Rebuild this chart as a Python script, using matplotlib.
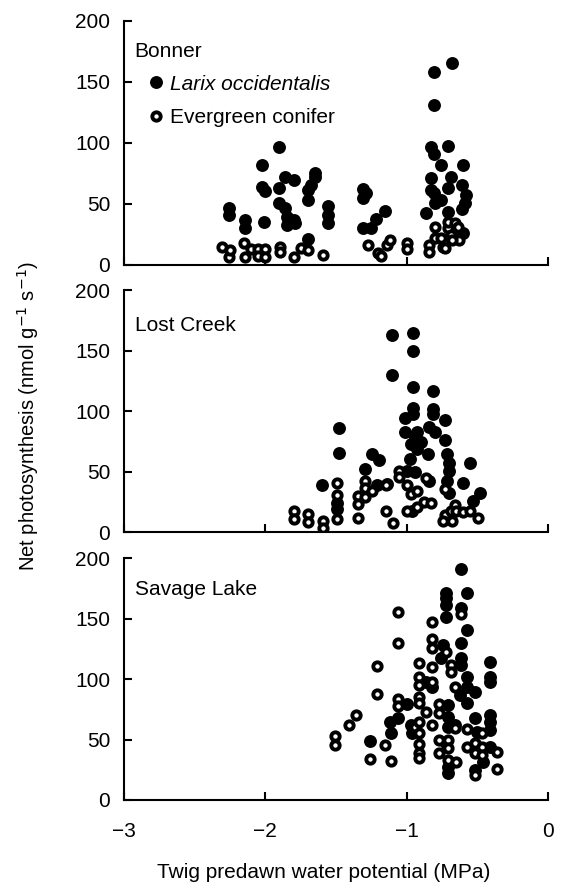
import matplotlib
matplotlib.use("Agg")
import matplotlib.pyplot as plt

plt.rcParams['font.family'] = ['Liberation Sans', 'DejaVu Sans']
plt.rcParams['font.size'] = 15

sites = ['Bonner', 'Lost Creek', 'Savage Lake']

# Bonner: Larix occidentalis (filled)
bon_larix_x = [-2.255, -2.255, -2.144, -2.144, -2.007, -2.026, -2.026, -2.0, -1.90,
               -1.90, -1.86, -1.80, -1.90, -1.86, -1.85, -1.80, -1.85, -1.79,
               -1.70, -1.68, -1.70, -1.65, -1.65, -1.554, -1.554, -1.554,
               -1.31, -1.29, -1.31, -1.31, -1.25, -1.22, -1.15, -1.70,
               -0.807, -0.677, -0.807, -0.83, -0.71, -0.807, -0.76, -0.604,
               -0.83, -0.69, -0.83, -0.71, -0.61, -0.58, -0.59, -0.81, -0.80,
               -0.76, -0.86, -0.71, -0.61, -0.60]
bon_larix_y = [47, 41, 37, 30, 35.5, 82, 63.7, 61, 97,
               62.8, 72, 69.7, 50.5, 46.4, 39.6, 37, 32.8, 34,
               61.5, 65.6, 53, 72, 75, 48, 41, 34.7,
               62, 59, 54.6, 30, 30, 38, 44.5, 21,
               158.5, 165.3, 131, 97, 97.8, 91, 82, 82,
               71, 72.4, 61.5, 62.8, 65.6, 57.4, 51, 58.7, 50.5,
               53.3, 42.3, 43.7, 45.6, 26]

# Bonner: evergreen conifers (open)
bon_ever_x = [-2.304, -2.257, -2.25, -2.149, -2.144, -2.10, -2.05, -2.05, -2.0, -2.0,
              -1.896, -1.896, -1.795, -1.745, -1.70, -1.594,
              -1.276, -1.20, -1.18, -1.14, -1.12, -1.0, -1.0,
              -0.80, -0.80, -0.76, -0.71, -0.71, -0.66, -0.64, -0.63, -0.69,
              -0.74, -0.84, -0.84, -0.73, -0.68]
bon_ever_y = [15, 6.8, 12.3, 17.8, 6.8, 12.8, 12.8, 7.4, 12.8, 6.8,
              15, 11, 6.8, 13.7, 12.3, 8.2,
              16.4, 9.6, 7.4, 16.4, 20.5, 17.8, 12.8,
              31, 21.9, 21.9, 30, 35.5, 34, 31.4, 20.5, 24.6,
              15, 16.4, 11, 13.7, 20.5]

# Lost Creek: Larix occidentalis (filled)
lc_larix_x = [-1.599, -1.476, -1.476, -1.49, -1.49, -1.295, -1.248, -1.193,
              -1.21, -1.14, -1.106, -1.106, -0.958, -0.958, -0.958, -0.958, -0.958,
              -1.01, -1.01, -0.93, -0.94, -0.97, -0.90, -0.93,
              -0.811, -0.811, -0.811, -0.84, -0.80, -0.729, -0.729,
              -0.85, -0.98, -1.0, -0.94, -0.84, -0.717, -0.70, -0.70, -0.717, -0.70,
              -0.599, -0.552, -0.48, -0.53, -0.96]
lc_larix_y = [38.5, 85.6, 65.6, 18.6, 24, 51.8, 64.8, 59.6,
              39, 40, 162.6, 129.4, 164.5, 149.6, 119.7, 102.5, 97.5,
              94.2, 82.3, 82.3, 78, 72.6, 74, 68.4,
              116.3, 101.7, 97.5, 86.4, 82.3, 92.5, 75.9,
              64.3, 60, 50.4, 50, 42, 64.3, 57.3, 50.4, 42, 32.4,
              40.7, 57.3, 32.4, 25.5, 17]

# Lost Creek: evergreen conifers (open)
lc_ever_x = [-1.797, -1.797, -1.696, -1.696, -1.594, -1.594, -1.49, -1.49, -1.49,
             -1.342, -1.342, -1.342, -1.295, -1.295, -1.295, -1.248,
             -1.146, -1.146, -1.094, -1.052, -1.052, -1.0, -0.97, -0.93, -1.0, -0.93,
             -0.88, -0.86, -0.83, -0.73, -0.73, -0.74, -0.68, -0.69, -0.66, -0.65,
             -0.60, -0.55, -0.498]
lc_ever_y = [17.2, 11, 15, 8.3, 9.4, 3.3, 40.7, 30.5, 11,
             29.6, 23.3, 11.6, 42, 28.8, 36.6, 33.8,
             38.8, 17.7, 7.5, 50.4, 45.4, 38.8, 31.6, 34.3, 17.2, 20.5,
             25, 44.9, 24, 35.2, 14.4, 8.9, 8.9, 17.2, 22.7, 17.2,
             16.3, 17.2, 11.6]

# Savage Lake: Larix occidentalis (filled)
sl_larix_x = [-1.257, -1.12, -1.11, -1.06, -1.0, -0.97, -0.96,
              -0.86, -0.82, -0.76, -0.74, -0.724, -0.724, -0.72, -0.724,
              -0.71, -0.71, -0.71, -0.72, -0.71, -0.71,
              -0.618, -0.574, -0.614, -0.614, -0.614, -0.614, -0.574,
              -0.574, -0.574, -0.62, -0.57, -0.52, -0.52, -0.50,
              -0.413, -0.413, -0.413, -0.413, -0.413, -0.413, -0.413, -0.46, -0.52, -0.66]
sl_larix_y = [49, 64.7, 55.6, 67.5, 79.3, 62, 55,
              97.8, 93.7, 117, 128, 171.3, 166.7, 161, 151.5,
              78.5, 68.9, 60.6, 46.8, 27.5, 22.6,
              190.6, 171.3, 158.4, 129.5, 117, 111.6, 140.5,
              102, 93.7, 86.8, 80, 89.5, 67.5, 56.5,
              114.3, 102, 97.8, 70.2, 64.7, 57.9, 44, 31.7, 24.8, 62]

# Savage Lake: evergreen conifers (open)
sl_ever_x = [-1.509, -1.509, -1.408, -1.356, -1.257, -1.21, -1.21, -1.156, -1.108,
             -1.061, -1.061, -1.061, -1.061,
             -0.943, -0.913, -0.913, -0.913, -0.913, -0.913, -0.913, -0.913, -0.913, -0.913, -0.913,
             -0.866, -0.818, -0.818, -0.818, -0.818, -0.818, -0.818, -0.77, -0.77, -0.77, -0.77,
             -0.72, -0.71, -0.71, -0.71, -0.685, -0.685, -0.66, -0.66, -0.65,
             -0.614, -0.57, -0.57, -0.52, -0.514, -0.514, -0.466, -0.466, -0.466, -0.36, -0.36]
sl_ever_y = [52.9, 45.5, 62, 70.2, 33.6, 110.7, 87.6, 45.5, 32.5,
             155.6, 129.5, 83.2, 77.7,
             60.6, 113, 101.4, 95, 85.4, 80.4, 64.7, 55, 46.3, 38.6, 34.4,
             73, 147.4, 132.8, 125.3, 110.2, 97.8, 62, 79.3, 72.2, 49.6, 39,
             122.6, 49.6, 42.7, 33, 111.6, 106, 93.7, 59.2, 31.7,
             153.7, 58.4, 44, 46.8, 38.6, 20.7, 55.6, 44, 37.2, 39.4, 25.9]

larix = [(bon_larix_x, bon_larix_y), (lc_larix_x, lc_larix_y), (sl_larix_x, sl_larix_y)]
evergreen = [(bon_ever_x, bon_ever_y), (lc_ever_x, lc_ever_y), (sl_ever_x, sl_ever_y)]

fig = plt.figure(figsize=(5.7, 8.88), dpi=100)
boxes = [[0.2175, 0.7016, 0.744, 0.2748],
         [0.2175, 0.4009, 0.744, 0.2725],
         [0.2175, 0.0991, 0.744, 0.2725]]
label_y = [0.912, 0.893, 0.908]

for i, box in enumerate(boxes):
    ax = fig.add_axes(box)
    lx, ly = larix[i]
    ex, ey = evergreen[i]
    ax.plot(lx, ly, 'o', ms=9.3, color='black', mec='black', mew=0,
            label='Larix occidentalis')
    ax.plot(ex, ey, 'o', ms=6.0, mfc='white', mec='black', mew=2.8,
            label='Evergreen conifer')
    ax.set_xlim(-3, 0)
    ax.set_ylim(0, 200)
    ax.set_xticks([-3, -2, -1, 0])
    ax.set_yticks([0, 50, 100, 150, 200])
    for s in ['top', 'right']:
        ax.spines[s].set_visible(False)
    for s in ['left', 'bottom']:
        ax.spines[s].set_linewidth(1.5)
    ax.tick_params(direction='in', length=6, width=1.5, labelsize=15)
    ax.tick_params(axis='y', pad=10)
    ax.tick_params(axis='x', pad=16)
    if i < 2:
        ax.set_xticklabels([])
    else:
        ax.set_xticklabels(['\u22123', '\u22122', '\u22121', '0'])
    ax.text(0.025, label_y[i], sites[i], transform=ax.transAxes,
            fontsize=15, va='top', ha='left')
    if i == 0:
        leg = ax.legend(loc='upper left', bbox_to_anchor=(0.05, 0.78), frameon=False,
                        handletextpad=0.2, handlelength=1.0, labelspacing=0.7,
                        fontsize=15, borderaxespad=0, borderpad=0)
        leg.get_texts()[0].set_style('italic')

fig.text(0.049, 0.532, 'Net photosynthesis (nmol g$^{-1}$ s$^{-1}$)', rotation=90,
         ha='center', va='center', fontsize=14.5)
fig.text(0.567, 0.017, 'Twig predawn water potential (MPa)', ha='center', va='center',
         fontsize=15)

fig.savefig('out.png', dpi=100)
